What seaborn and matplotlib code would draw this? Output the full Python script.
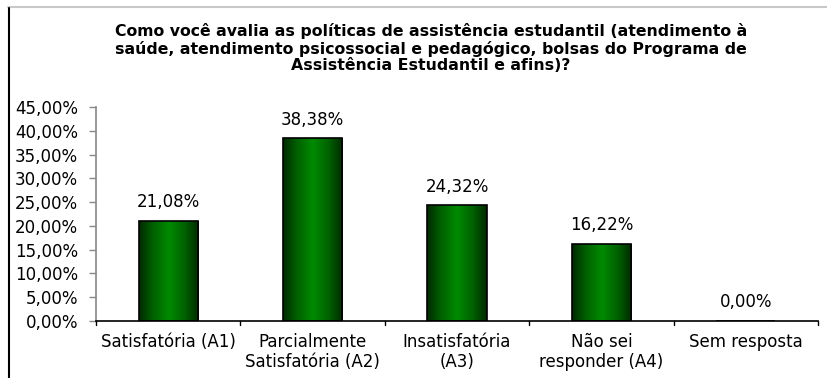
import matplotlib
matplotlib.use("Agg")
import matplotlib.pyplot as plt
import seaborn as sns
import numpy as np
import pandas as pd
from matplotlib.lines import Line2D
from matplotlib.colors import LinearSegmentedColormap

categories = ["Satisfatória (A1)", "Parcialmente\nSatisfatória (A2)", "Insatisfatória\n(A3)",
              "Não sei\nresponder (A4)", "Sem resposta"]
values = [21.08, 38.38, 24.32, 16.22, 0.00]
yticks = [0, 5, 10, 15, 20, 25, 30, 35, 40, 45]
title = ("Como você avalia as políticas de assistência estudantil (atendimento à\n"
         "saúde, atendimento psicossocial e pedagógico, bolsas do Programa de\n"
         "Assistência Estudantil e afins)?")

sns.set_theme(style="white")
plt.rcParams['font.family'] = ['DejaVu Sans']
plt.rcParams['text.color'] = 'black'

df = pd.DataFrame({"cat": categories, "val": values})

fig = plt.figure(figsize=(8.28, 3.78), dpi=100)
ax = fig.add_axes([0.116, 0.151, 0.872, 0.566])
sns.barplot(data=df, x="cat", y="val", color="#007a00", width=0.41,
            edgecolor="black", linewidth=1.2, ax=ax, zorder=2)

cmap = LinearSegmentedColormap.from_list("g", ["#002a00", "#006400", "#008a00", "#006400", "#002a00"])
grad = np.linspace(0, 1, 256).reshape(1, -1)
for p in ax.patches:
    x0, y0 = p.get_x(), p.get_y()
    w, h = p.get_width(), p.get_height()
    if h <= 0:
        continue
    im = ax.imshow(grad, extent=[x0, x0 + w, y0, y0 + h], aspect="auto",
                   cmap=cmap, zorder=2.5, origin="lower")
    im.set_clip_path(p)
    p.set_facecolor("none")
    p.set_zorder(3)

ax.set_xlim(-0.5, 4.5)
ax.set_ylim(0, 45)
ax.set_yticks(yticks)
ax.set_yticklabels([f"{v:.2f}%".replace(".", ",") for v in yticks], fontsize=12, color="black")
ax.set_xticks(range(len(categories)))
ax.set_xticklabels(categories, fontsize=12, color="black", linespacing=1.1)
ax.tick_params(axis="x", length=0, pad=9)
ax.tick_params(axis="y", length=5, width=1, color="#888888", direction="out", pad=8, left=True)
ax.set_xlabel("")
ax.set_ylabel("")

# category boundary ticks on x axis
for k in range(6):
    ax.plot([k - 0.5, k - 0.5], [0, -0.8], color="black", lw=1, clip_on=False, zorder=4)

for s in ["top", "right"]:
    ax.spines[s].set_visible(False)
ax.spines["left"].set_color("#888888")
ax.spines["left"].set_linewidth(1.2)
ax.spines["bottom"].set_color("black")
ax.spines["bottom"].set_linewidth(1.2)

for i, v in enumerate(values):
    ax.annotate(f"{v:.2f}%".replace(".", ","), (i, v), xytext=(0, 7), textcoords="offset points",
                ha="center", va="bottom", fontsize=12, color="black")

fig.text(431/828, 1 - 23/378, title, ha="center", va="top", fontsize=11.3, fontweight="bold",
         linespacing=1.13, color="black")

# frame lines
fig.add_artist(Line2D([8/828, 1.0], [1 - 7/378, 1 - 7/378], color="#c8c8c8", lw=1.5))
fig.add_artist(Line2D([9/828, 9/828], [0, 1 - 8/378], color="black", lw=1.5))

fig.savefig("out.png", dpi=100)
